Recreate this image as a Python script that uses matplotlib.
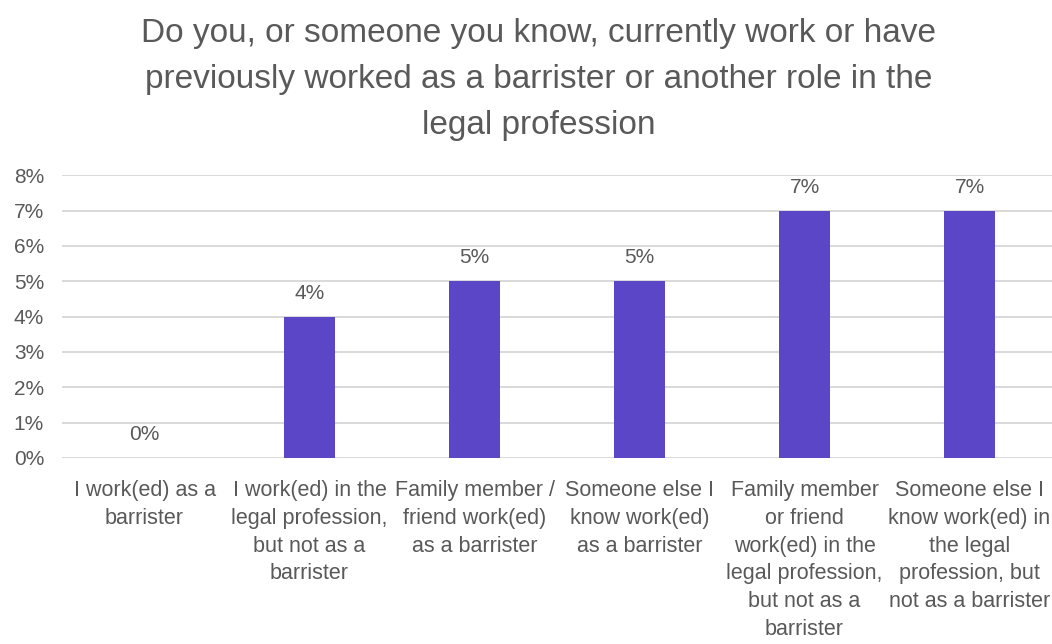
import matplotlib
matplotlib.use("Agg")
import matplotlib.pyplot as plt
from matplotlib.ticker import PercentFormatter

plt.rcParams['font.family'] = ['Liberation Sans', 'DejaVu Sans']

categories = [
    "I work(ed) as a\nbarrister",
    "I work(ed) in the\nlegal profession,\nbut not as a\nbarrister",
    "Family member /\nfriend work(ed)\nas a barrister",
    "Someone else I\nknow work(ed)\nas a barrister",
    "Family member\nor friend\nwork(ed) in the\nlegal profession,\nbut not as a\nbarrister",
    "Someone else I\nknow work(ed) in\nthe legal\nprofession, but\nnot as a barrister",
]
values = [0, 4, 5, 5, 7, 7]
y_ticks = [0, 1, 2, 3, 4, 5, 6, 7, 8]
title = ("Do you, or someone you know, currently work or have\n"
         "previously worked as a barrister or another role in the\n"
         "legal profession")

text_color = "#595959"
bar_color = "#5A46C6"
grid_color = "#D9D9D9"

fig = plt.figure(figsize=(10.52, 6.44), dpi=100)
ax = fig.add_axes([0.059, 0.289, 0.941, 0.439])

x = list(range(len(categories)))
ax.bar(x, values, width=0.31, color=bar_color, zorder=3)

ax.set_xlim(-0.5, len(categories) - 0.5)
ax.set_ylim(0, 8)
ax.set_yticks(y_ticks)
ax.yaxis.set_major_formatter(PercentFormatter(decimals=0))
ax.grid(axis='y', color=grid_color, linewidth=1.4, zorder=0)
for s in ax.spines.values():
    s.set_visible(False)
ax.tick_params(axis='both', length=0, colors=text_color)
ax.tick_params(axis='y', pad=13, labelsize=15)
ax.set_xticks(x)
ax.set_xticklabels(categories, fontsize=15.5, color=text_color, linespacing=1.42)
ax.tick_params(axis='x', pad=16)

for xi, v in zip(x, values):
    ax.annotate(f"{v}%", (xi, v), xytext=(0, 10), textcoords='offset points',
                ha='center', va='bottom', fontsize=15, color=text_color)

fig.text(0.512, 0.972, title, ha='center', va='top', fontsize=24,
         color=text_color, linespacing=1.62)

fig.savefig("out.png", dpi=100)
